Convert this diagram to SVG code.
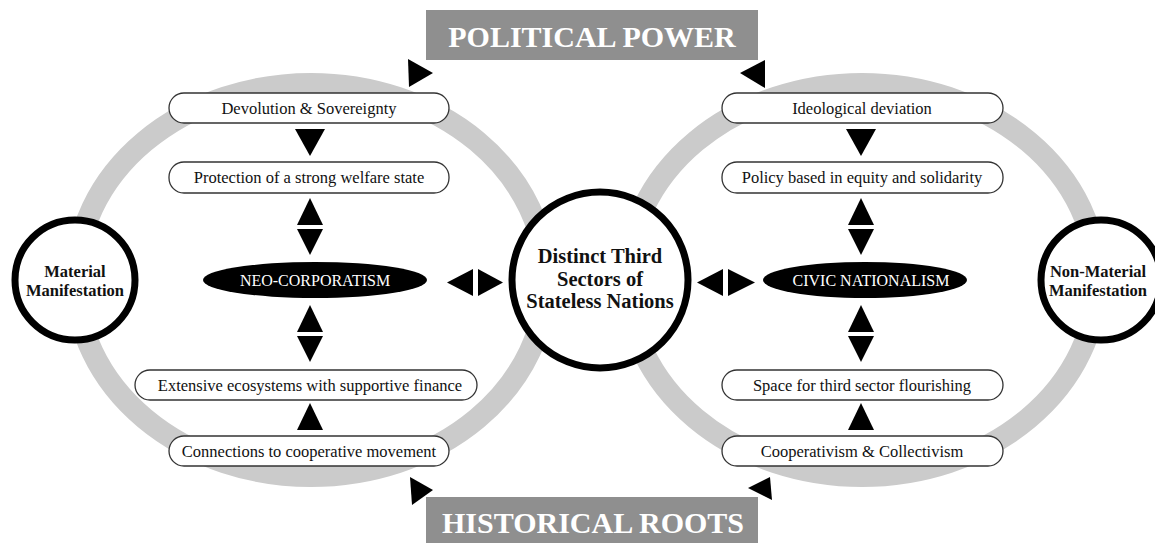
<svg xmlns="http://www.w3.org/2000/svg" width="1155" height="543" viewBox="0 0 1155 543">
  <style>
    .ring { fill: none; stroke: #cbcbcb; stroke-width: 22; }
    .pill { fill: #ffffff; stroke: #333333; stroke-width: 1.3; }
    .pill-text { font-family: "Liberation Serif", "Times New Roman", serif; font-size: 16.5px; fill: #111111; text-anchor: middle; }
    .core { fill: #000000; }
    .core-text { font-family: "Liberation Serif", "Times New Roman", serif; font-size: 16px; fill: #ffffff; text-anchor: middle; }
    .hub { fill: #ffffff; stroke: #000000; stroke-width: 7; }
    .hub-text { font-family: "Liberation Serif", "Times New Roman", serif; font-weight: bold; fill: #111111; text-anchor: middle; }
    .banner { fill: #8f8f8f; }
    .banner-text { font-family: "Liberation Serif", "Times New Roman", serif; font-weight: bold; font-size: 30px; fill: #ffffff; text-anchor: middle; }
    .arrow { fill: #000000; }
  </style>

  <rect width="1155" height="543" fill="#ffffff"/>

  <!-- the two grey cycles -->
  <g id="cycles">
    <ellipse class="ring" cx="311" cy="280" rx="235" ry="196"/>
    <ellipse class="ring" cx="862" cy="280" rx="235" ry="196"/>
  </g>

  <!-- banners -->
  <g id="political-power">
    <rect class="banner" x="426" y="10" width="332" height="50"/>
    <text class="banner-text" x="592" y="47">POLITICAL POWER</text>
  </g>
  <g id="historical-roots">
    <rect class="banner" x="426" y="497" width="332" height="46"/>
    <text class="banner-text" x="593" y="533">HISTORICAL ROOTS</text>
  </g>

  <!-- left cycle -->
  <g id="devolution">
    <rect class="pill" x="169" y="93" width="280" height="30" rx="15"/>
    <text class="pill-text" x="309" y="114">Devolution &amp; Sovereignty</text>
  </g>
  <g id="welfare">
    <rect class="pill" x="169" y="162" width="280" height="31" rx="15"/>
    <text class="pill-text" x="309" y="183">Protection of a strong welfare state</text>
  </g>
  <g id="neo-corporatism">
    <ellipse class="core" cx="315" cy="280" rx="112" ry="18"/>
    <text class="core-text" x="315" y="286">NEO-CORPORATISM</text>
  </g>
  <g id="ecosystems">
    <rect class="pill" x="135" y="370" width="342" height="30" rx="15"/>
    <text class="pill-text" x="310" y="391">Extensive ecosystems with supportive finance</text>
  </g>
  <g id="cooperative-movement">
    <rect class="pill" x="169" y="436" width="280" height="30" rx="15"/>
    <text class="pill-text" x="309" y="457">Connections to cooperative movement</text>
  </g>

  <!-- right cycle -->
  <g id="ideological">
    <rect class="pill" x="722" y="93" width="281" height="30" rx="15"/>
    <text class="pill-text" x="862" y="114">Ideological deviation</text>
  </g>
  <g id="policy">
    <rect class="pill" x="722" y="162" width="281" height="31" rx="15"/>
    <text class="pill-text" x="862" y="183">Policy based in equity and solidarity</text>
  </g>
  <g id="civic-nationalism">
    <ellipse class="core" cx="865" cy="280" rx="102" ry="18"/>
    <text class="core-text" x="871" y="286">CIVIC NATIONALISM</text>
  </g>
  <g id="third-sector-space">
    <rect class="pill" x="722" y="370" width="281" height="30" rx="15"/>
    <text class="pill-text" x="862" y="391">Space for third sector flourishing</text>
  </g>
  <g id="cooperativism">
    <rect class="pill" x="722" y="436" width="281" height="30" rx="15"/>
    <text class="pill-text" x="862" y="457">Cooperativism &amp; Collectivism</text>
  </g>

  <!-- hubs -->
  <g id="material">
    <circle class="hub" cx="75" cy="280" r="60" stroke-width="6"/>
    <text class="hub-text" x="75" y="277" font-size="16.5">Material</text>
    <text class="hub-text" x="75" y="296" font-size="16.5">Manifestation</text>
  </g>
  <g id="non-material">
    <circle class="hub" cx="1101" cy="280" r="60" stroke-width="6"/>
    <text class="hub-text" x="1098" y="277" font-size="16.5">Non-Material</text>
    <text class="hub-text" x="1098" y="296" font-size="16.5">Manifestation</text>
  </g>
  <g id="distinct-third-sectors">
    <circle class="hub" cx="600" cy="280" r="88"/>
    <text class="hub-text" x="600" y="263" font-size="20.5">Distinct Third</text>
    <text class="hub-text" x="600" y="285.5" font-size="20.5">Sectors of</text>
    <text class="hub-text" x="600" y="308" font-size="20.5">Stateless Nations</text>
  </g>

  <!-- connectors: solid triangular arrowheads -->
  <g id="connectors">
    <!-- corner arrows at the banners -->
    <polygon class="arrow" points="408,59 409,87 433,73"/>
    <polygon class="arrow" points="765,60 765,88 740,73"/>
    <polygon class="arrow" points="410,477 412,505 433,490"/>
    <polygon class="arrow" points="770,477 772,500 748,488"/>

    <!-- left column -->
    <polygon class="arrow" points="295,129 325,129 310,156"/>
    <polygon class="arrow" points="297,225 323,225 310,198"/>
    <polygon class="arrow" points="297,229 323,229 310,255"/>
    <polygon class="arrow" points="297,332 323,332 310,305"/>
    <polygon class="arrow" points="297,336 323,336 310,362"/>
    <polygon class="arrow" points="297,430 323,430 310,403"/>

    <!-- right column -->
    <polygon class="arrow" points="846,129 876,129 861,156"/>
    <polygon class="arrow" points="848,225 874,225 861,198"/>
    <polygon class="arrow" points="848,229 874,229 861,255"/>
    <polygon class="arrow" points="848,332 874,332 861,305"/>
    <polygon class="arrow" points="848,336 874,336 861,362"/>
    <polygon class="arrow" points="848,430 874,430 861,403"/>

    <!-- links to the central hub -->
    <polygon class="arrow" points="473,269 473,296 447,282.5"/>
    <polygon class="arrow" points="478,269 478,296 503,282.5"/>
    <polygon class="arrow" points="723,269 723,296 697,282.5"/>
    <polygon class="arrow" points="728,269 728,296 755,282.5"/>
  </g>
</svg>
